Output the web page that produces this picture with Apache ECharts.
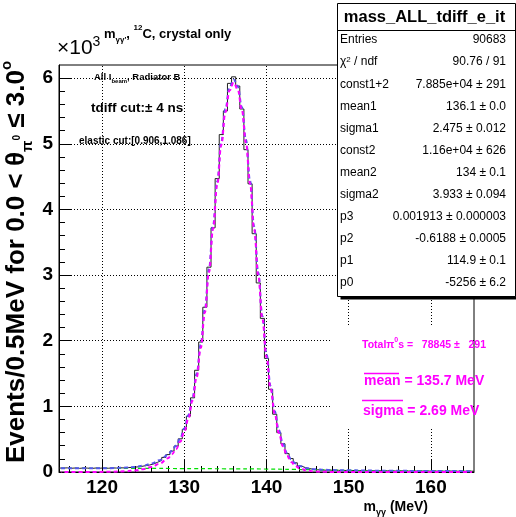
<!DOCTYPE html>
<html>
<head>
<meta charset="utf-8">
<script src="https://cdn.jsdelivr.net/npm/echarts@6.0.0/dist/echarts.min.js"></script>
<style>
  html, body { margin: 0; padding: 0; background: #fff; }
  #chart { width: 516px; height: 517px; }
</style>
</head>
<body>
<div id="chart"></div>
<script>
// histogram: 0.5 MeV bins, centres 115.0 ... 165.0
const binWidth = 0.5;
const firstCenter = 115;
const counts = [
  60, 63, 57, 61, 55, 62, 59, 54, 61, 58,
  62, 57, 63, 60, 64, 62, 68, 71, 77, 84,
  95, 106, 122, 148, 178, 222, 265, 318, 395, 505,
  650, 850, 1130, 1550, 1980, 2510, 3120, 3720, 4470, 5140,
  5500, 5920, 6020, 5880, 5530, 4910, 4390, 3630, 2880, 2340,
  1730, 1260, 880, 600, 430, 280, 205, 140, 90, 66,
  52, 40, 34, 30, 27, 29, 24, 26, 22, 24,
  21, 23, 19, 22, 18, 20, 17, 19, 16, 18,
  17, 15, 18, 16, 14, 17, 15, 13, 16, 14,
  15, 13, 14, 12, 15, 13, 12, 14, 12, 13,
  12
];

// fit curves
const fitX = [115, 118, 121, 123, 124, 125, 126, 127, 128, 128.5, 129, 129.5, 130, 130.5,
  131, 131.5, 132, 132.5, 133, 133.5, 134, 134.5, 135, 135.5, 136, 136.5, 137, 137.5,
  138, 138.5, 139, 139.5, 140, 140.5, 141, 141.5, 142, 142.5, 143, 143.5, 144,
  145, 146, 147, 148, 150, 155, 160, 165];
const fitTotal = [56, 56, 59, 67, 78, 97, 129, 180, 262, 323, 403, 512, 663, 867,
  1140, 1495, 1942, 2480, 3093, 3754, 4420, 5030, 5529, 5859, 5981, 5878, 5560, 5062,
  4434, 3739, 3035, 2375, 1795, 1309, 926, 637, 431, 287, 192, 131, 92,
  56, 40, 33, 29, 25, 19, 15, 12];
const fitSignal = [0, 0, 3, 12, 23, 43, 76, 127, 209, 270, 351, 460, 611, 815,
  1088, 1444, 1891, 2429, 3043, 3704, 4370, 4981, 5480, 5810, 5933, 5830, 5513, 5015,
  4388, 3693, 2990, 2331, 1750, 1266, 884, 596, 391, 248, 154, 94, 56,
  20, 7, 3, 1, 0, 0, 0, 0];
const bgX = [115, 120, 125, 130, 135, 140, 145, 150, 155, 160, 165];
const bgY = [56, 55, 55, 52, 49, 45, 36, 25, 19, 15, 12];

// axis ticks
const xMajor = [120, 130, 140, 150, 160];
const xMinor = [116, 118, 122, 124, 126, 128, 132, 134, 136, 138, 142, 144, 146, 148,
  152, 154, 156, 158, 162, 164];
const yMajor = [1000, 2000, 3000, 4000, 5000, 6000];
const yMinor = [];
for (let v = 200; v < 6200; v += 200) if (v % 1000 !== 0) yMinor.push(v);

// stats box
const statNames = ['Entries', 'χ{p|2} / ndf', 'const1+2', 'mean1', 'sigma1', 'const2',
  'mean2', 'sigma2', 'p3', 'p2', 'p1', 'p0'];
const statValues = ['90683', '90.76 / 91', '7.885e+04 ± 291', '136.1 ± 0.0',
  '2.475 ± 0.012', '1.16e+04 ± 626', '134 ± 0.1', '3.933 ± 0.094',
  '0.001913 ± 0.000003', '-0.6188 ± 0.0005', '114.9 ± 0.1', '-5256 ± 6.2'];

const F = '"Liberation Sans", Arial, Helvetica, sans-serif';

const histData = counts.map((c, i) => [firstCenter - binWidth / 2 + i * binWidth, c]);
histData.push([firstCenter + binWidth / 2 + (counts.length - 1) * binWidth, counts[counts.length - 1]]);

const chart = echarts.init(document.getElementById('chart'), null, { renderer: 'canvas' });

function txt(x, y, text, size, opts) {
  return {
    type: 'text', x: x, y: y, z: 120,
    style: Object.assign({
      text: text, fontFamily: F, fontSize: size, fill: '#000',
      textAlign: 'left', textVerticalAlign: 'middle', align: 'left', verticalAlign: 'middle'
    }, opts || {})
  };
}

const graphics = [];
// y axis title
graphics.push({
  type: 'text', x: 17, y: 262, rotation: Math.PI / 2, z: 120,
  style: {
    text: '{t|Events/0.5MeV for 0.0 < θ}{s|π}{ss|0}{t| ≤ 3.0}{p|o}',
    fontFamily: F, fill: '#000',
    textAlign: 'center', textVerticalAlign: 'middle', align: 'center', verticalAlign: 'middle',
    rich: {
      t: { fontFamily: F, fontSize: 26, fontWeight: 'bold', lineHeight: 36, verticalAlign: 'middle' },
      s: { fontFamily: F, fontSize: 15, fontWeight: 'bold', lineHeight: 17, verticalAlign: 'bottom' },
      ss: { fontFamily: F, fontSize: 10, fontWeight: 'bold', lineHeight: 15, verticalAlign: 'middle' },
      p: { fontFamily: F, fontSize: 15, fontWeight: 'bold', lineHeight: 15, verticalAlign: 'top' }
    }
  }
});
// x axis title
graphics.push(txt(428, 507, '{t|m}{s|γγ}{t| (MeV)}', 14, {
  textAlign: 'right', align: 'right',
  rich: {
    t: { fontFamily: F, fontSize: 14, fontWeight: 'bold', lineHeight: 20, verticalAlign: 'middle' },
    s: { fontFamily: F, fontSize: 9, fontWeight: 'bold', lineHeight: 10, verticalAlign: 'bottom' }
  }
}));
// x10^3
graphics.push(txt(57, 48, '{t|×10}{p|3}', 20, {
  rich: {
    t: { fontFamily: F, fontSize: 21, lineHeight: 26, verticalAlign: 'middle' },
    p: { fontFamily: F, fontSize: 14, lineHeight: 14, verticalAlign: 'top' }
  }
}));
// top title
graphics.push(txt(104, 34, '{t|m}{s|γγ\'}{t|, }{p|12}{t|C, crystal only}', 13, {
  rich: {
    t: { fontFamily: F, fontSize: 13, fontWeight: 'bold', lineHeight: 20, verticalAlign: 'middle' },
    s: { fontFamily: F, fontSize: 8, fontWeight: 'bold', lineHeight: 9, verticalAlign: 'bottom' },
    p: { fontFamily: F, fontSize: 8, fontWeight: 'bold', lineHeight: 9, verticalAlign: 'top' }
  }
}));
// annotations
graphics.push(txt(94, 77, '{t|All I}{s|beam}{t|, Radiator B}', 9.5, {
  rich: {
    t: { fontFamily: F, fontSize: 9.5, fontWeight: 'bold', lineHeight: 14, verticalAlign: 'middle' },
    s: { fontFamily: F, fontSize: 6, fontWeight: 'bold', lineHeight: 7, verticalAlign: 'bottom' }
  }
}));
graphics.push(txt(91, 108, 'tdiff cut:± 4 ns', 13.5, { fontWeight: 'bold' }));
graphics.push(txt(79, 141, 'elastic cut:[0.906,1.086]', 10, { fontWeight: 'bold' }));

// magenta pave
graphics.push({ type: 'rect', z: 60, shape: { x: 330, y: 325, width: 143, height: 102 }, style: { fill: '#fff' } });
graphics.push(txt(362, 345, '{t|Total}{t|π}{p|0}{t|s =   78845 ±   291}', 10.5, {
  fill: '#ff00ff',
  rich: {
    t: { fontFamily: F, fontSize: 10.5, fontWeight: 'bold', lineHeight: 16, verticalAlign: 'middle', color: '#ff00ff' },
    p: { fontFamily: F, fontSize: 7, fontWeight: 'bold', lineHeight: 8, verticalAlign: 'top', color: '#ff00ff' }
  }
}));
graphics.push(txt(364, 381, 'mean = 135.7 MeV', 14, { fontWeight: 'bold', fill: '#ff00ff' }));
graphics.push(txt(363, 411, 'sigma = 2.69 MeV', 14, { fontWeight: 'bold', fill: '#ff00ff' }));
graphics.push({ type: 'line', z: 120, shape: { x1: 364, y1: 373.5, x2: 399, y2: 373.5 }, style: { stroke: '#ff00ff', lineWidth: 1.5 } });
graphics.push({ type: 'line', z: 120, shape: { x1: 362, y1: 400.5, x2: 403, y2: 400.5 }, style: { stroke: '#ff00ff', lineWidth: 1.5 } });

// stats box
graphics.push({ type: 'rect', z: 100, shape: { x: 340.5, y: 6.5, width: 178, height: 293 }, style: { fill: '#000' } });
graphics.push({ type: 'rect', z: 101, shape: { x: 337.5, y: 3.5, width: 178, height: 293 }, style: { fill: '#fff', stroke: '#000', lineWidth: 1 } });
graphics.push({ type: 'line', z: 102, shape: { x1: 337.5, y1: 30.5, x2: 516, y2: 30.5 }, style: { stroke: '#000', lineWidth: 1 } });
graphics.push(txt(424.5, 17, 'mass_ALL_tdiff_e_it', 16.5, { fontWeight: 'bold', textAlign: 'center', align: 'center' }));
statNames.forEach((name, i) => {
  const y = 40 + 22.1 * i;
  graphics.push(txt(340, y, name, 12, {
    rich: { p: { fontFamily: F, fontSize: 8, lineHeight: 8, verticalAlign: 'top' } }
  }));
  graphics.push(txt(506, y, statValues[i], 12, { textAlign: 'right', align: 'right' }));
});

const gridLine = { color: '#000', width: 1, type: [1, 2] };

const option = {
  animation: false,
  backgroundColor: '#fff',
  grid: {
    left: 59, right: 42, top: 65, bottom: 45,
    show: true, borderColor: '#000', borderWidth: 1
  },
  xAxis: [
    {
      type: 'value', min: 114.75, max: 165.25,
      axisLine: { show: true, onZero: false, lineStyle: { color: '#000', width: 1 } },
      axisTick: { show: true, inside: true, length: 12, customValues: xMajor, lineStyle: { color: '#000' } },
      axisLabel: {
        customValues: xMajor, margin: 6, color: '#000',
        fontFamily: F, fontSize: 19, fontWeight: 'bold'
      },
      splitLine: { show: false }
    },
    {
      type: 'value', min: 114.75, max: 165.25, position: 'bottom', offset: 0,
      axisLine: { show: false },
      axisTick: { show: true, inside: true, length: 6, customValues: xMinor, lineStyle: { color: '#000' } },
      axisLabel: { show: false },
      splitLine: { show: false }
    }
  ],
  yAxis: [
    {
      type: 'value', min: 0, max: 6200, interval: 1000,
      axisLine: { show: true, onZero: false, lineStyle: { color: '#000', width: 1 } },
      axisTick: { show: true, inside: true, length: 12, lineStyle: { color: '#000' } },
      axisLabel: {
        margin: 6, color: '#000', fontFamily: F, fontSize: 19, fontWeight: 'bold',
        showMaxLabel: false,
        formatter: v => (v % 1000 === 0 ? String(v / 1000) : '')
      },
      splitLine: { show: false }
    },
    {
      type: 'value', min: 0, max: 6200, position: 'left', offset: 0,
      axisLine: { show: false },
      axisTick: { show: true, inside: true, length: 6, customValues: yMinor, lineStyle: { color: '#000' } },
      axisLabel: { show: false },
      splitLine: { show: false }
    }
  ],
  series: [
    {
      name: 'grid', type: 'line', data: [], z: 1,
      markLine: {
        silent: true, symbol: 'none', label: { show: false }, animation: false,
        lineStyle: gridLine,
        data: xMajor.map(v => ({ xAxis: v })).concat(yMajor.map(v => ({ yAxis: v })))
      }
    },
    {
      name: 'hist', type: 'line', step: 'end', symbol: 'none', z: 3,
      data: histData,
      lineStyle: { color: '#222', width: 1 }
    },
    {
      name: 'background', type: 'line', symbol: 'none', smooth: true, z: 4,
      data: bgX.map((x, i) => [x, bgY[i]]),
      lineStyle: { color: '#00e000', width: 1.2, type: [4, 3] }
    },
    {
      name: 'total', type: 'line', symbol: 'none', smooth: 0.4, smoothMonotone: 'x', z: 5,
      data: fitX.map((x, i) => [x, fitTotal[i]]),
      lineStyle: { color: '#5555ee', width: 2, type: [4, 3] }
    },
    {
      name: 'signal', type: 'line', symbol: 'none', smooth: 0.4, smoothMonotone: 'x', z: 6,
      data: fitX.map((x, i) => [x, fitSignal[i]]),
      lineStyle: { color: '#ff00ff', width: 2, type: [4, 3], dashOffset: 3.5 }
    }
  ],
  graphic: graphics
};

chart.setOption(option);
</script>
</body>
</html>
